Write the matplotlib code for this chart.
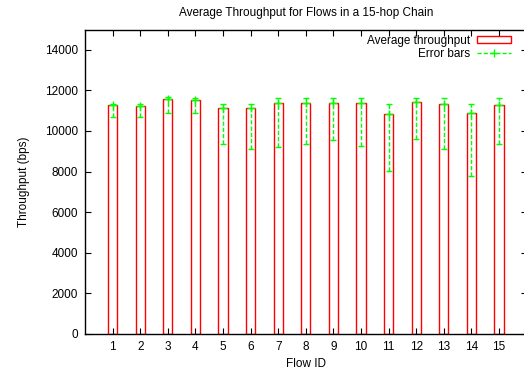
import matplotlib
matplotlib.use("Agg")
import matplotlib.pyplot as plt
from matplotlib.lines import Line2D
from matplotlib.patches import Rectangle

plt.rcParams['font.family'] = ['Liberation Sans', 'DejaVu Sans']

flows = list(range(1, 16))
avg_throughput = [11270, 11250, 11550, 11530, 11120, 11120, 11370, 11385,
                  11400, 11385, 10840, 11420, 11320, 10860, 11285]
err_high = [11350, 11350, 11650, 11630, 11350, 11350, 11600, 11615,
            11600, 11600, 11350, 11600, 11600, 11350, 11600]
err_low = [10665, 10665, 10890, 10890, 9335, 9120, 9190, 9335,
           9530, 9250, 8020, 9580, 9120, 7790, 9335]
yticks = [0, 2000, 4000, 6000, 8000, 10000, 12000, 14000]

W, H = 524, 377
fig = plt.figure(figsize=(W / 100, H / 100), dpi=100)
left, right, top, bottom = 85, 526.6, 29.5, 333.8
ax = fig.add_axes([left / W, (H - bottom) / H, (right - left) / W, (bottom - top) / H])

fs = 8.5
green = '#00ff00'
ax.bar(flows, avg_throughput, width=0.34, fill=False, edgecolor='#ff0000',
       linewidth=1.0, zorder=2)

yerr = [[m - lo for m, lo in zip(avg_throughput, err_low)],
        [hi - m for m, hi in zip(avg_throughput, err_high)]]
eb = ax.errorbar(flows, avg_throughput, yerr=yerr, fmt='+', color=green,
                 ecolor=green, elinewidth=1.0, capsize=2.2, capthick=1.0,
                 markersize=6, markeredgewidth=1.0, zorder=3)
eb[2][0].set_linestyle((0, (3, 1.5)))

ax.set_xlim(0, 16)
ax.set_ylim(0, 15000)
ax.set_xticks(flows)
ax.set_xticklabels([str(f) for f in flows])
ax.set_yticks(yticks)
ax.set_yticklabels([str(t) for t in yticks])
ax.tick_params(direction='in', length=4.5, width=0.8, top=True, right=True,
               labelsize=fs, colors='black', pad=5)
for s in ax.spines.values():
    s.set_linewidth(1.0)
    s.set_color('black')

ax.set_title('Average Throughput for Flows in a 15-hop Chain', fontsize=fs, pad=9.8)
ax.set_xlabel('Flow ID', fontsize=fs, labelpad=4)
ax.set_ylabel('Throughput (bps)', fontsize=fs, labelpad=10.5)

h_bar = Rectangle((0, 0), 1, 1, fill=False, edgecolor='#ff0000', linewidth=1.0)
h_err = Line2D([], [], color=green, linestyle=(0, (3, 1.5)), linewidth=1.0,
               marker='+', markersize=6)
ax.legend([h_bar, h_err], ['Average throughput', 'Error bars'],
          loc='upper right', bbox_to_anchor=(511 / W, (H - 35) / H),
          bbox_transform=fig.transFigure, frameon=False, markerfirst=False,
          fontsize=fs, handlelength=2.9, handleheight=0.55, handletextpad=0.6,
          labelspacing=0.05, borderpad=0, borderaxespad=0)

fig.savefig('out.png', dpi=100)
